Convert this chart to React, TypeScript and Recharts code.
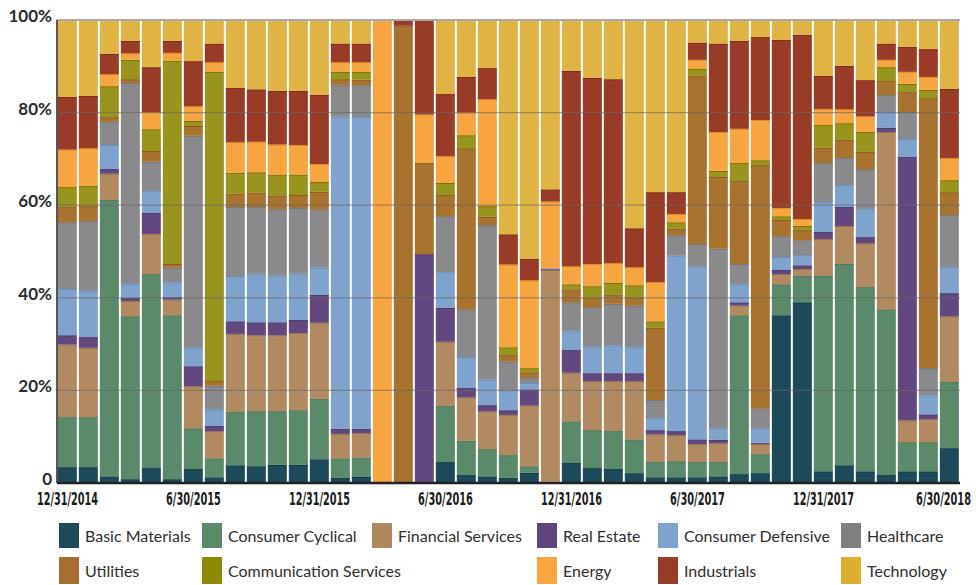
import React from "react";
import { Bar, BarChart, ReferenceLine, XAxis, YAxis } from "recharts";

if (typeof document !== "undefined") document.body.style.margin = "0";

const dates = [
  "12/31/2014", "1/31/2015", "2/28/2015", "3/31/2015", "4/30/2015", "5/31/2015",
  "6/30/2015", "7/31/2015", "8/31/2015", "9/30/2015", "10/31/2015", "11/30/2015",
  "12/31/2015", "1/31/2016", "2/29/2016", "3/31/2016", "4/30/2016", "5/31/2016",
  "6/30/2016", "7/31/2016", "8/31/2016", "9/30/2016", "10/31/2016", "11/30/2016",
  "12/31/2016", "1/31/2017", "2/28/2017", "3/31/2017", "4/30/2017", "5/31/2017",
  "6/30/2017", "7/31/2017", "8/31/2017", "9/30/2017", "10/31/2017", "11/30/2017",
  "12/31/2017", "1/31/2018", "2/28/2018", "3/31/2018", "4/30/2018", "5/31/2018",
  "6/30/2018",
];

// sector weights per month, in %
const basicMaterials = [
  3.4, 3.4, 1.4, 0.8, 3.2, 0.8, 3.0, 1.2, 3.8, 3.6, 3.9, 3.9, 5.1, 1.1, 1.3, 0, 0, 0,
  4.5, 1.7, 1.4, 1.1, 2.2, 0, 4.3, 3.2, 3.0, 2.1, 1.2, 1.2, 1.2, 1.4, 1.9, 2.1, 36.2, 39.0,
  2.5, 3.8, 2.5, 1.7, 2.5, 2.5, 7.5,
];
const consumerCyclical = [
  10.8, 10.8, 59.7, 35.2, 41.9, 35.4, 8.8, 4.1, 11.5, 11.9, 11.6, 11.8, 13.1, 4.2, 4.2, 0, 0, 0,
  12.1, 7.4, 5.9, 4.9, 1.4, 0.3, 9.0, 8.2, 8.2, 7.3, 3.3, 3.5, 3.3, 3.1, 34.3, 4.1, 6.7, 5.7,
  42.2, 43.5, 39.8, 35.8, 6.3, 6.3, 14.3,
];
const financialServices = [
  15.7, 15.0, 5.7, 3.3, 8.7, 3.4, 9.1, 5.9, 16.9, 16.4, 16.4, 16.7, 16.4, 5.3, 5.3, 0, 0, 0,
  13.9, 9.4, 8.2, 8.7, 13.1, 45.7, 10.5, 10.6, 10.8, 12.6, 6.0, 5.6, 3.9, 4.1, 2.1, 2.2, 2.2, 1.5,
  8.0, 8.2, 9.5, 38.3, 4.7, 5.0, 14.2,
];
const realEstate = [
  2.0, 2.3, 1.0, 0.7, 4.5, 0.5, 4.3, 1.1, 2.7, 2.8, 2.8, 2.8, 6.0, 1.1, 0.9, 0, 0, 49.4,
  7.3, 2.0, 1.3, 1.0, 3.5, 0.2, 4.9, 1.7, 1.7, 1.7, 0.9, 0.9, 1.0, 0.7, 0.7, 0.3, 0.9, 0.8,
  1.5, 4.1, 1.3, 0.9, 56.9, 1.0, 5.0,
];
const consumerDefensive = [
  10.0, 10.0, 5.2, 3.0, 4.8, 3.2, 4.0, 3.6, 9.8, 10.5, 10.1, 10.0, 5.9, 67.4, 67.3, 0, 0, 0,
  7.7, 6.7, 5.5, 4.3, 1.4, 0.2, 4.2, 5.8, 6.0, 5.7, 2.6, 37.9, 37.3, 2.5, 4.0, 3.1, 2.8, 2.2,
  6.5, 4.7, 6.1, 3.4, 3.9, 4.1, 5.6,
];
const healthcare = [
  14.4, 15.1, 5.0, 43.4, 6.3, 3.2, 45.8, 5.1, 14.9, 14.4, 14.3, 14.2, 12.6, 6.9, 6.9, 0, 0, 0,
  12.1, 10.3, 33.4, 6.2, 1.1, 0, 6.1, 8.5, 9.0, 8.9, 3.9, 4.4, 4.9, 38.8, 4.3, 4.3, 4.5, 3.2,
  8.4, 5.9, 8.6, 3.7, 5.8, 5.9, 11.3,
];
const utilities = [
  3.4, 3.3, 1.0, 0.8, 2.3, 0.8, 2.1, 1.0, 2.9, 3.1, 3.0, 2.8, 3.8, 1.2, 1.2, 0, 98.8, 19.7,
  4.6, 34.8, 1.8, 1.4, 1.2, 0, 2.8, 2.1, 2.0, 1.8, 15.6, 1.4, 36.4, 15.5, 17.9, 52.6, 3.5, 2.2,
  3.3, 3.9, 3.7, 3.0, 4.3, 58.3, 4.9,
];
const communicationServices = [
  4.2, 4.3, 6.7, 4.2, 4.7, 43.9, 1.1, 66.8, 4.5, 4.4, 4.5, 4.4, 2.1, 1.6, 1.7, 0, 0, 0,
  2.6, 2.8, 2.3, 1.7, 0.9, 0, 1.1, 2.4, 2.5, 2.6, 1.4, 1.4, 1.4, 1.3, 3.9, 1.0, 0.8, 0.9,
  4.9, 3.6, 4.3, 3.0, 1.8, 1.8, 2.6,
];
const energy = [
  8.1, 8.1, 2.6, 1.4, 3.7, 1.7, 3.2, 2.1, 6.6, 6.6, 6.5, 6.4, 3.9, 2.1, 2.1, 100, 0, 10.5,
  5.8, 4.9, 23.1, 17.9, 19.0, 14.4, 3.9, 4.8, 4.3, 3.9, 8.5, 1.8, 2.0, 8.4, 7.4, 8.7, 1.8, 1.5,
  3.5, 3.0, 3.4, 1.6, 2.6, 2.8, 4.8,
];
const industrials = [
  11.4, 11.3, 4.4, 2.7, 9.7, 2.6, 9.7, 4.0, 11.7, 11.3, 11.6, 11.7, 14.9, 4.0, 4.0, 0, 1.2, 20.4,
  13.4, 7.7, 6.7, 6.5, 4.6, 2.6, 42.2, 40.2, 39.7, 8.4, 19.4, 4.7, 3.7, 19.1, 19.0, 17.9, 36.3, 39.8,
  7.1, 9.4, 7.8, 3.5, 5.4, 6.0, 14.9,
];
const technology = [
  16.6, 16.4, 7.3, 4.5, 10.2, 4.5, 8.9, 5.1, 14.7, 15.0, 15.3, 15.3, 16.2, 5.1, 5.1, 0, 0, 0,
  16.0, 12.3, 10.4, 46.3, 51.6, 36.6, 11.0, 12.5, 12.8, 45.0, 37.2, 37.2, 4.9, 5.1, 4.5, 3.7, 4.3, 3.2,
  12.1, 9.9, 13.0, 5.1, 5.8, 6.3, 14.9,
];

// fill = colour inside the bars, swatch = colour in the legend, edge = thin line on top of each block
const sectors = [
  { key: "basicMaterials", name: "Basic Materials", fill: "#1d4a5a", swatch: "#1d4a59", edge: "#123a48", values: basicMaterials },
  { key: "consumerCyclical", name: "Consumer Cyclical", fill: "#5b8a6b", swatch: "#5a8a6a", edge: "#4a7a5a", values: consumerCyclical },
  { key: "financialServices", name: "Financial Services", fill: "#b28a62", swatch: "#b0885f", edge: "#9c7650", values: financialServices },
  { key: "realEstate", name: "Real Estate", fill: "#63487f", swatch: "#5f447e", edge: "#52396e", values: realEstate },
  { key: "consumerDefensive", name: "Consumer Defensive", fill: "#7fa3cd", swatch: "#7ea3cc", edge: "#6b90bd", values: consumerDefensive },
  { key: "healthcare", name: "Healthcare", fill: "#8a8a8d", swatch: "#7f7f82", edge: "#77777a", values: healthcare },
  { key: "utilities", name: "Utilities", fill: "#a8732f", swatch: "#a66f30", edge: "#8e5c1f", values: utilities },
  { key: "communicationServices", name: "Communication Services", fill: "#99941e", swatch: "#8c8a00", edge: "#7d7300", values: communicationServices },
  { key: "energy", name: "Energy", fill: "#f7a541", swatch: "#f8a63f", edge: "#e58a2a", values: energy },
  { key: "industrials", name: "Industrials", fill: "#993c27", swatch: "#983b27", edge: "#7e2a16", values: industrials },
  { key: "technology", name: "Technology", fill: "#e0b444", swatch: "#dfad2f", edge: "#d0a030", values: technology },
];

const data = dates.map((date, i) => {
  const row: Record<string, string | number> = { date };
  sectors.forEach((s) => (row[s.key] = s.values[i]));
  return row;
});

// legend layout, as in the original: two rows
const legendRows = [
  [
    { key: "basicMaterials", left: 59 },
    { key: "consumerCyclical", left: 202 },
    { key: "financialServices", left: 372 },
    { key: "realEstate", left: 537 },
    { key: "consumerDefensive", left: 658 },
    { key: "healthcare", left: 841 },
  ],
  [
    { key: "utilities", left: 59 },
    { key: "communicationServices", left: 202 },
    { key: "energy", left: 537 },
    { key: "industrials", left: 658 },
    { key: "technology", left: 841 },
  ],
];

const gridLevels = [0.2, 0.4, 0.6, 0.8];

const YTick = ({ x, y, payload }: any) => (
  <text
    x={x}
    y={y}
    dy={2}
    textAnchor="end"
    fill="#2b2b2b"
    fontSize={17}
    fontWeight={700}
    fontFamily="Lato, sans-serif"
  >
    {payload.value === 0 ? "0" : `${Math.round(payload.value * 100)}%`}
  </text>
);

// the original uses a bold condensed face; squeeze DejaVu to the same width
const XTick = ({ x, y, payload }: any) => {
  const label = String(payload.value);
  const w = label.length * 6.1;
  // last label sits flush with the right edge
  const atEdge = x + w / 2 > 971;
  return (
    <text
      x={atEdge ? 971 : x}
      y={y}
      dy={14}
      textAnchor={atEdge ? "end" : "middle"}
      fill="#1a1a1a"
      fontSize={17}
      fontWeight={700}
      fontFamily="'DejaVu Sans Condensed', 'DejaVu Sans', sans-serif"
      textLength={w}
      lengthAdjust="spacingAndGlyphs"
    >
      {label}
    </text>
  );
};

const makeShape = (fill: string, edge: string) => (props: any) => {
  const { x, y, width, height } = props;
  if (!height || height <= 0) return <g />;
  return (
    <g>
      <rect x={x} y={y} width={width} height={height} fill={fill} />
      {height > 1.5 && (
        <line x1={x} x2={x + width} y1={y + 0.5} y2={y + 0.5} stroke={edge} strokeWidth={1} />
      )}
    </g>
  );
};

export default function App() {
  return (
    <div style={{ position: "relative", width: 976, height: 585, background: "#fff" }}>
      <BarChart
        width={976}
        height={585}
        data={data}
        stackOffset="expand"
        barCategoryGap="4%"
        margin={{ top: 20, right: 16, bottom: 72, left: 0 }}
      >
        <XAxis
          dataKey="date"
          interval={5}
          height={30}
          tickSize={0}
          tickMargin={8}
          tick={<XTick />}
          axisLine={{ stroke: "#222", strokeWidth: 2.5 }}
        />
        <YAxis
          width={57}
          domain={[0, 1]}
          ticks={[0, 0.2, 0.4, 0.6, 0.8, 1]}
          tickSize={0}
          tickMargin={5}
          tick={<YTick />}
          axisLine={{ stroke: "#222", strokeWidth: 1.5 }}
        />
        {sectors.map((s) => (
          <Bar
            key={s.key}
            dataKey={s.key}
            name={s.name}
            stackId="a"
            fill={s.fill}
            shape={makeShape(s.fill, s.edge)}
            isAnimationActive={false}
          />
        ))}
        {gridLevels.map((v) => (
          <ReferenceLine key={v} y={v} stroke="#676767" strokeOpacity={0.6} strokeWidth={1.3} />
        ))}
        <ReferenceLine y={1} stroke="#a8a8a8" strokeWidth={2} />
      </BarChart>
      {legendRows.map((row, r) =>
        row.map((item) => {
          const s = sectors.find((x) => x.key === item.key)!;
          const top = r === 0 ? 523 : 557;
          const h = r === 0 ? 25 : 27;
          return (
            <div key={item.key}>
              <div
                style={{
                  position: "absolute",
                  left: item.left,
                  top,
                  width: 20,
                  height: h,
                  background: s.swatch,
                }}
              />
              <div
                style={{
                  position: "absolute",
                  left: item.left + 26,
                  top: top + h / 2 - 11,
                  height: 22,
                  lineHeight: "22px",
                  fontSize: 16,
                  fontFamily: "Lato, sans-serif",
                  color: "#2e2e2e",
                  whiteSpace: "nowrap",
                }}
              >
                {s.name}
              </div>
            </div>
          );
        })
      )}
    </div>
  );
}
